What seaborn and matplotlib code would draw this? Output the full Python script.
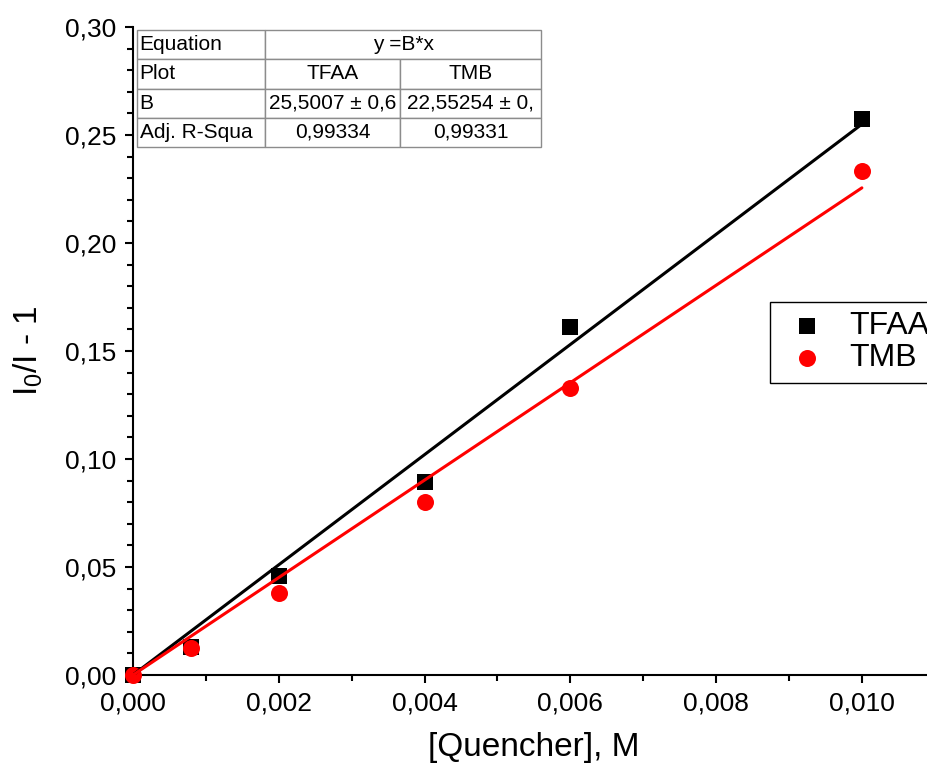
import matplotlib
matplotlib.use("Agg")
import numpy as np
import pandas as pd
import seaborn as sns
import matplotlib.pyplot as plt
from matplotlib.ticker import MultipleLocator, FuncFormatter

# Stern-Volmer data: quencher concentration (M) vs I0/I - 1
quencher = [0.0, 0.0008, 0.002, 0.004, 0.006, 0.010]
tfaa = [0.0, 0.0130, 0.0458, 0.0894, 0.1610, 0.2574]
tmb = [0.0, 0.0125, 0.0380, 0.0801, 0.1330, 0.2333]

series = ["TFAA", "TMB"]
colors = {"TFAA": "black", "TMB": "red"}
markers = {"TFAA": "s", "TMB": "o"}
marker_sizes = {"TFAA": 120, "TMB": 150}

# Linear fits through the origin, y = B*x
slopes = {"TFAA": 25.5007, "TMB": 22.55254}
slope_text = ["25,5007 ± 0,6", "22,55254 ± 0,"]
adj_r2_text = ["0,99334", "0,99331"]

points = pd.DataFrame({
    "Quencher": quencher * 2,
    "ratio": tfaa + tmb,
    "Sample": ["TFAA"] * len(quencher) + ["TMB"] * len(quencher),
})
fit_x = np.array([0.0, max(quencher)])
fits = pd.concat([
    pd.DataFrame({"Quencher": fit_x, "ratio": slopes[s] * fit_x, "Sample": s})
    for s in series
], ignore_index=True)

sns.set_style("ticks")
plt.rcParams["font.family"] = ["Liberation Sans", "DejaVu Sans"]
plt.rcParams["mathtext.fontset"] = "custom"
plt.rcParams["mathtext.rm"] = "Liberation Sans"
plt.rcParams["mathtext.it"] = "Liberation Sans"
plt.rcParams["mathtext.default"] = "regular"
for key in ("text.color", "axes.labelcolor", "xtick.color", "ytick.color",
            "xtick.labelcolor", "ytick.labelcolor"):
    plt.rcParams[key] = "black"

fig = plt.figure(figsize=(9.28, 7.76), dpi=100)
ax = fig.add_axes([0.1433, 0.1302, 0.864, 0.835])

for s in series:
    sns.scatterplot(data=points[points.Sample == s], x="Quencher", y="ratio",
                    color=colors[s], marker=markers[s], s=marker_sizes[s],
                    linewidth=0, label=s, ax=ax, zorder=3, clip_on=False)

sns.lineplot(data=fits, x="Quencher", y="ratio", hue="Sample",
             palette=colors, linewidth=2.2, legend=False, ax=ax, zorder=4)

ax.set_xlim(0, 0.011)
ax.set_ylim(0, 0.30)
ax.xaxis.set_major_locator(MultipleLocator(0.002))
ax.xaxis.set_minor_locator(MultipleLocator(0.001))
ax.yaxis.set_major_locator(MultipleLocator(0.05))
ax.yaxis.set_minor_locator(MultipleLocator(0.01))
ax.xaxis.set_major_formatter(FuncFormatter(lambda v, p: f"{v:.3f}".replace(".", ",")))
ax.yaxis.set_major_formatter(FuncFormatter(lambda v, p: f"{v:.2f}".replace(".", ",")))
ax.tick_params(which="both", direction="out", width=1.5, colors="black",
               labelcolor="black", labelsize=19)
ax.tick_params(which="major", length=6, pad=6)
ax.tick_params(which="minor", length=4)
sns.despine(ax=ax)
for side in ("left", "bottom"):
    ax.spines[side].set_linewidth(1.5)
    ax.spines[side].set_color("black")

ax.set_xlabel("[Quencher], M", fontsize=24, labelpad=12, color="black")
ax.set_ylabel("I$_0$/I - 1", fontsize=24, labelpad=14, color="black")

leg = ax.legend(loc="upper left", bbox_to_anchor=(0.794, 0.576),
                borderaxespad=0, frameon=True, fancybox=False,
                edgecolor="black", fontsize=23, handletextpad=0.45,
                handlelength=1.75, borderpad=0.3, labelspacing=0.05)
leg.get_frame().set_linewidth(1.0)
leg.get_frame().set_alpha(1)

# Fit results table
cell_text = [
    ["Equation", "", ""],
    ["Plot"] + series,
    ["B"] + slope_text,
    ["Adj. R-Squa"] + adj_r2_text,
]
tbl = ax.table(cellText=cell_text, colWidths=[0.317, 0.334, 0.349],
               bbox=[0.005, 0.815, 0.504, 0.18], cellLoc="center",
               zorder=5)
tbl.auto_set_font_size(False)
for (r, c), cell in tbl.get_celld().items():
    cell.set_edgecolor("#8c8c8c")
    cell.set_linewidth(1.0)
    cell.set_facecolor("white")
    cell.get_text().set_fontsize(15)
    cell.get_text().set_color("black")
    if c == 0:
        cell.get_text().set_ha("left")
        cell._loc = "left"
        cell.PAD = 0.02
tbl[0, 1].visible_edges = "BTL"
tbl[0, 2].visible_edges = "BTR"
ax.text(0.005 + 0.504 * (0.317 + (0.334 + 0.349) / 2), 0.815 + 0.18 * 7 / 8,
        "y =B*x", transform=ax.transAxes, ha="center", va="center",
        fontsize=15, color="black", zorder=6)

fig.savefig("out.png", dpi=100)
